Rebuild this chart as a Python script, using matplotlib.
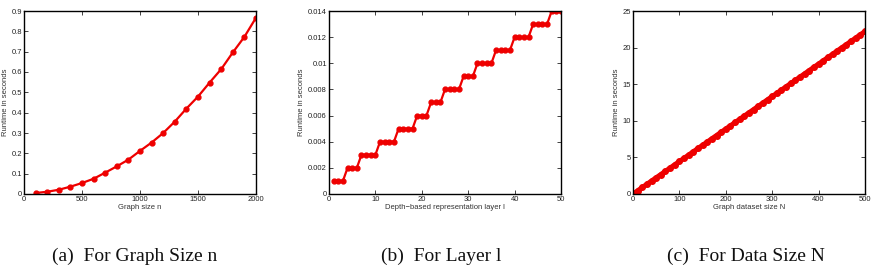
import matplotlib.pyplot as plt

# ---------- Data ----------
# (a) runtime vs graph size n
graph_size = [100, 200, 300, 400, 500, 600, 700, 800, 900, 1000,
              1100, 1200, 1300, 1400, 1500, 1600, 1700, 1800, 1900, 2000]
runtime_size = [0.005, 0.011, 0.021, 0.036, 0.054, 0.075, 0.105, 0.136, 0.169, 0.212,
                0.253, 0.300, 0.356, 0.420, 0.479, 0.548, 0.614, 0.696, 0.773, 0.867]

# (b) runtime vs depth-based representation layer l
layers = list(range(1, 51))
runtime_layer = ([0.001] * 3 + [0.002] * 3 + [0.003] * 4 + [0.004] * 4 + [0.005] * 4
                 + [0.006] * 3 + [0.007] * 3 + [0.008] * 4 + [0.009] * 3 + [0.010] * 4
                 + [0.011] * 4 + [0.012] * 4 + [0.013] * 4 + [0.014] * 3)

# (c) runtime vs graph dataset size N
dataset_size = [1, 10, 20, 30, 40, 50, 60, 70, 80, 90, 100,
                110, 120, 130, 140, 150, 160, 170, 180, 190, 200,
                210, 220, 230, 240, 250, 260, 270, 280, 290, 300,
                310, 320, 330, 340, 350, 360, 370, 380, 390, 400,
                410, 420, 430, 440, 450, 460, 470, 480, 490, 500]
runtime_dataset = [0.04, 0.44, 0.89, 1.33, 1.78, 2.22, 2.66, 3.11, 3.55, 4.00, 4.44,
                   4.88, 5.33, 5.77, 6.22, 6.66, 7.10, 7.55, 7.99, 8.44, 8.88,
                   9.32, 9.77, 10.21, 10.66, 11.10, 11.54, 11.99, 12.43, 12.88, 13.32,
                   13.76, 14.21, 14.65, 15.10, 15.54, 15.98, 16.43, 16.87, 17.32, 17.76,
                   18.20, 18.65, 19.09, 19.54, 19.98, 20.42, 20.87, 21.31, 21.76, 22.20]

captions = ["(a)  For Graph Size n", "(b)  For Layer l", "(c)  For Data Size N"]

# ---------- Plotting ----------
plt.rcParams["font.family"] = ["Liberation Sans", "DejaVu Sans"]
fig = plt.figure(figsize=(8.76, 2.74), dpi=100)

lefts = [24 / 876, 329 / 876, 633 / 876]
width = 232 / 876
bottom = 1 - 194 / 274
height = 183 / 274
axes = [fig.add_axes([l, bottom, width, height]) for l in lefts]


def style_axis(ax):
    ax.tick_params(direction="in", top=True, right=True, labelsize=5.5,
                   length=3, width=0.6, pad=1.5, colors="#222222")
    for s in ax.spines.values():
        s.set_linewidth(1.0)
    ax.set_ylabel("Runtime in seconds", fontsize=5.5, color="#333333", labelpad=2)


ax = axes[0]
ax.plot(graph_size, runtime_size, color="#ee0000", lw=1.6, marker="o", ms=3.5)
ax.set_xlim(0, 2000)
ax.set_ylim(0, 0.9)
ax.set_xticks([0, 500, 1000, 1500, 2000])
ax.set_yticks([0, 0.1, 0.2, 0.3, 0.4, 0.5, 0.6, 0.7, 0.8, 0.9])
ax.set_yticklabels(["0", "0.1", "0.2", "0.3", "0.4", "0.5", "0.6", "0.7", "0.8", "0.9"])
ax.set_xlabel("Graph size n", fontsize=5.5, color="#333333", labelpad=1)
style_axis(ax)

ax = axes[1]
ax.plot(layers, runtime_layer, color="#ee0000", lw=1.6, marker="o", ms=3.5)
ax.set_xlim(0, 50)
ax.set_ylim(0, 0.014)
ax.set_xticks([0, 10, 20, 30, 40, 50])
ax.set_yticks([0, 0.002, 0.004, 0.006, 0.008, 0.01, 0.012, 0.014])
ax.set_yticklabels(["0", "0.002", "0.004", "0.006", "0.008", "0.01", "0.012", "0.014"])
ax.set_xlabel("Depth\u2212based representation layer l", fontsize=5.5, color="#333333", labelpad=1)
style_axis(ax)

ax = axes[2]
ax.plot(dataset_size, runtime_dataset, color="#ee0000", lw=3.6, marker="o", ms=4.0,
        solid_capstyle="round")
ax.set_xlim(0, 500)
ax.set_ylim(0, 25)
ax.set_xticks([0, 100, 200, 300, 400, 500])
ax.set_yticks([0, 5, 10, 15, 20, 25])
ax.set_xlabel("Graph dataset size N", fontsize=5.5, color="#333333", labelpad=1)
style_axis(ax)

cap_x = [135 / 876, 441 / 876, 746 / 876]
for x, txt in zip(cap_x, captions):
    fig.text(x, 1 - 256 / 274, txt, ha="center", va="center",
             family=["Liberation Serif", "DejaVu Serif"], fontsize=14, color="#111111")

fig.savefig("out.png", dpi=100)
